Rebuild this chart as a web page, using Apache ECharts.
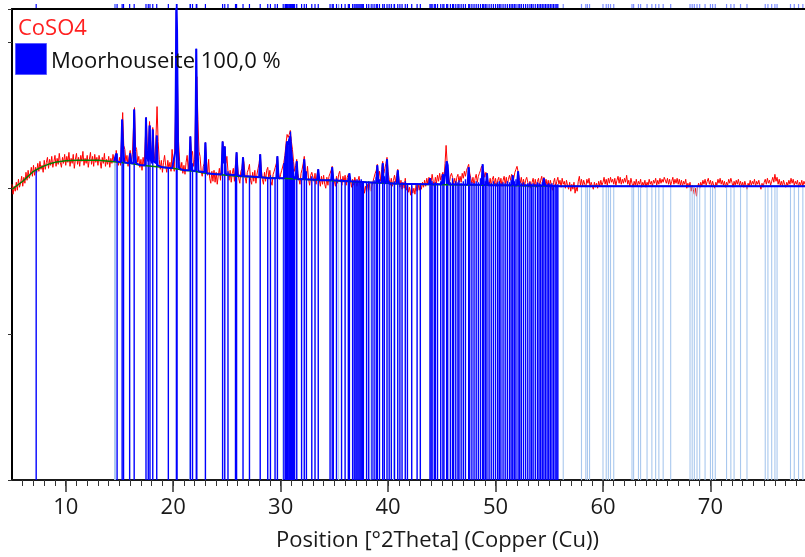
<!DOCTYPE html>
<html><head><meta charset="utf-8">
<script src="https://cdn.jsdelivr.net/npm/echarts@6.0.0/dist/echarts.min.js"></script>
<style>html,body{margin:0;padding:0;background:#fff}#c{width:805px;height:557px}</style>
</head><body><div id="c"></div>
<script>
// Observed pattern [2Theta, intensity]
const observed = [
[5.0,297],[5.1,287],[5.2,295],[5.3,290],[5.4,299],[5.5,291],[5.6,302],[5.7,294],[5.8,298],[5.9,305],
[6.0,295],[6.1,304],[6.2,298],[6.3,309],[6.4,301],[6.5,311],[6.6,303],[6.7,307],[6.8,314],[6.9,305],
[7.0,316],[7.1,306],[7.2,314],[7.3,309],[7.4,318],[7.5,310],[7.6,320],[7.7,312],[7.8,316],[7.9,309],
[8.0,321],[8.1,312],[8.2,319],[8.3,324],[8.4,313],[8.5,322],[8.6,316],[8.7,325],[8.8,314],[8.9,320],
[9.0,326],[9.1,315],[9.2,323],[9.3,317],[9.4,328],[9.5,319],[9.6,314],[9.7,324],[9.8,318],[9.9,327],
[10.0,316],[10.1,325],[10.2,319],[10.3,329],[10.4,315],[10.5,323],[10.6,318],[10.7,327],[10.8,313],[10.9,322],
[11.0,328],[11.1,317],[11.2,324],[11.3,315],[11.4,326],[11.5,320],[11.6,330],[11.7,316],[11.8,323],[11.9,318],
[12.0,326],[12.1,314],[12.2,322],[12.3,329],[12.4,317],[12.5,325],[12.6,315],[12.7,327],[12.8,319],[12.9,324],
[13.0,316],[13.1,326],[13.2,320],[13.3,313],[13.4,324],[13.5,318],[13.6,328],[13.7,315],[13.8,322],[13.9,317],
[14.0,325],[14.1,314],[14.2,323],[14.3,318],[14.4,327],[14.5,321],[14.6,315],[14.7,331],[14.8,322],[14.9,316],
[15.0,324],[15.1,316],[15.2,345],[15.3,369],[15.4,336],[15.5,332],[15.6,320],[15.7,326],[15.8,315],[15.9,325],
[16.0,331],[16.1,320],[16.2,327],[16.3,352],[16.4,374],[16.5,335],[16.6,332],[16.7,319],[16.8,325],[16.9,314],
[17.0,322],[17.1,311],[17.2,324],[17.3,316],[17.4,340],[17.5,364],[17.6,331],[17.7,339],[17.8,360],[17.9,334],
[18.0,326],[18.1,354],[18.2,330],[18.3,320],[18.4,345],[18.5,375],[18.6,340],[18.7,322],[18.8,312],[18.9,321],
[19.0,309],[19.1,319],[19.2,326],[19.3,316],[19.4,309],[19.5,321],[19.6,313],[19.7,319],[19.8,310],[19.9,332],
[20.0,318],[20.1,310],[20.2,360],[20.3,470],[20.4,400],[20.5,340],[20.6,320],[20.7,311],[20.8,319],[20.9,308],
[21.0,316],[21.1,307],[21.2,319],[21.3,326],[21.4,312],[21.5,322],[21.6,345],[21.7,326],[21.8,330],[21.9,315],
[22.0,322],[22.1,380],[22.2,405],[22.3,362],[22.4,330],[22.5,325],[22.6,311],[22.7,305],[22.8,315],[22.9,318],
[23.0,339],[23.1,320],[23.2,306],[23.3,322],[23.4,303],[23.5,298],[23.6,310],[23.7,300],[23.8,311],[23.9,299],
[24.0,309],[24.1,297],[24.2,306],[24.3,313],[24.4,301],[24.5,318],[24.6,340],[24.7,331],[24.8,335],[24.9,318],
[25.0,325],[25.1,310],[25.2,301],[25.3,311],[25.4,299],[25.5,308],[25.6,313],[25.7,300],[25.8,318],[25.9,329],
[26.0,315],[26.1,303],[26.2,298],[26.3,310],[26.4,313],[26.5,324],[26.6,318],[26.7,304],[26.8,298],[26.9,309],
[27.0,312],[27.1,317],[27.2,301],[27.3,297],[27.4,309],[27.5,300],[27.6,311],[27.7,298],[27.8,307],[27.9,313],
[28.0,318],[28.1,327],[28.2,312],[28.3,302],[28.4,297],[28.5,309],[28.6,300],[28.7,311],[28.8,314],[28.9,303],
[29.0,311],[29.1,300],[29.2,296],[29.3,307],[29.4,310],[29.5,314],[29.6,318],[29.7,325],[29.8,309],[29.9,302],
[30.0,307],[30.1,311],[30.2,313],[30.3,319],[30.4,326],[30.5,338],[30.6,347],[30.7,344],[30.8,347],[30.9,351],
[31.0,340],[31.1,332],[31.2,320],[31.3,310],[31.4,316],[31.5,322],[31.6,308],[31.7,302],[31.8,297],[31.9,308],
[32.0,312],[32.1,318],[32.2,325],[32.3,311],[32.4,303],[32.5,315],[32.6,302],[32.7,296],[32.8,306],[32.9,309],
[33.0,311],[33.1,300],[33.2,308],[33.3,297],[33.4,307],[33.5,312],[33.6,301],[33.7,295],[33.8,305],[33.9,297],
[34.0,306],[34.1,297],[34.2,293],[34.3,304],[34.4,296],[34.5,305],[34.6,308],[34.7,311],[34.8,315],[34.9,304],
[35.0,300],[35.1,295],[35.2,305],[35.3,298],[35.4,307],[35.5,310],[35.6,301],[35.7,296],[35.8,305],[35.9,299],
[36.0,306],[36.1,296],[36.2,304],[36.3,307],[36.4,309],[36.5,300],[36.6,294],[36.7,302],[36.8,296],[36.9,304],
[37.0,303],[37.1,295],[37.2,301],[37.3,305],[37.4,296],[37.5,293],[37.6,290],[37.7,297],[37.8,288],[37.9,295],
[38.0,289],[38.1,297],[38.2,291],[38.3,298],[38.4,290],[38.5,296],[38.6,300],[38.7,304],[38.8,308],[38.9,311],
[39.0,317],[39.1,305],[39.2,310],[39.3,300],[39.4,312],[39.5,320],[39.6,308],[39.7,313],[39.8,318],[39.9,324],
[40.0,310],[40.1,302],[40.2,296],[40.3,303],[40.4,295],[40.5,301],[40.6,306],[40.7,299],[40.8,306],[40.9,312],
[41.0,303],[41.1,294],[41.2,301],[41.3,292],[41.4,299],[41.5,293],[41.6,303],[41.7,291],[41.8,298],[41.9,289],
[42.0,294],[42.1,286],[42.2,295],[42.3,288],[42.4,293],[42.5,287],[42.6,296],[42.7,290],[42.8,297],[42.9,291],
[43.0,298],[43.1,292],[43.2,299],[43.3,294],[43.4,301],[43.5,295],[43.6,303],[43.7,297],[43.8,304],[43.9,304],
[44.0,299],[44.1,307],[44.2,300],[44.3,295],[44.4,304],[44.5,298],[44.6,306],[44.7,300],[44.8,308],[44.9,301],
[45.0,306],[45.1,309],[45.2,302],[45.3,318],[45.4,336],[45.5,318],[45.6,303],[45.7,298],[45.8,305],[45.9,308],
[46.0,304],[46.1,297],[46.2,303],[46.3,296],[46.4,304],[46.5,307],[46.6,299],[46.7,305],[46.8,299],[46.9,308],
[47.0,303],[47.1,310],[47.2,305],[47.3,311],[47.4,314],[47.5,317],[47.6,308],[47.7,303],[47.8,298],[47.9,304],
[48.0,296],[48.1,303],[48.2,307],[48.3,299],[48.4,305],[48.5,308],[48.6,311],[48.7,315],[48.8,317],[48.9,310],
[49.0,304],[49.1,309],[49.2,306],[49.3,299],[49.4,296],[49.5,303],[49.6,295],[49.7,302],[49.8,305],[49.9,297],
[50.0,303],[50.1,295],[50.2,301],[50.3,304],[50.4,296],[50.5,303],[50.6,295],[50.7,301],[50.8,305],[50.9,297],
[51.0,304],[51.1,296],[51.2,302],[51.3,306],[51.4,301],[51.5,307],[51.6,308],[51.7,303],[51.8,309],[51.9,312],
[52.0,315],[52.1,313],[52.2,304],[52.3,298],[52.4,304],[52.5,296],[52.6,302],[52.7,295],[52.8,301],[52.9,304],
[53.0,299],[53.1,294],[53.2,300],[53.3,293],[53.4,299],[53.5,303],[53.6,295],[53.7,302],[53.8,294],[53.9,300],
[54.0,303],[54.1,295],[54.2,301],[54.3,305],[54.4,297],[54.5,304],[54.6,296],[54.7,302],[54.8,295],[54.9,301],
[55.0,294],[55.1,301],[55.2,296],[55.3,291],[55.4,299],[55.5,303],[55.6,294],[55.7,300],[55.8,304],[55.9,297],
[56.0,301],[56.1,294],[56.2,303],[56.3,297],[56.4,300],[56.5,293],[56.6,301],[56.7,296],[56.8,292],[56.9,299],
[57.0,290],[57.1,297],[57.2,292],[57.3,299],[57.4,288],[57.5,294],[57.6,290],[57.7,300],[57.8,305],[57.9,296],
[58.0,302],[58.1,295],[58.2,301],[58.3,297],[58.4,294],[58.5,302],[58.6,298],[58.7,303],[58.8,294],[58.9,299],
[59.0,297],[59.1,292],[59.2,299],[59.3,294],[59.4,298],[59.5,293],[59.6,300],[59.7,295],[59.8,301],[59.9,296],
[60.0,299],[60.1,304],[60.2,297],[60.3,302],[60.4,296],[60.5,303],[60.6,298],[60.7,304],[60.8,299],[60.9,302],
[61.0,297],[61.1,303],[61.2,296],[61.3,301],[61.4,305],[61.5,298],[61.6,304],[61.7,297],[61.8,302],[61.9,298],
[62.0,303],[62.1,299],[62.2,306],[62.3,297],[62.4,301],[62.5,295],[62.6,303],[62.7,298],[62.8,294],[62.9,300],
[63.0,296],[63.1,302],[63.2,295],[63.3,300],[63.4,297],[63.5,302],[63.6,294],[63.7,299],[63.8,296],[63.9,301],
[64.0,294],[64.1,299],[64.2,296],[64.3,302],[64.4,297],[64.5,300],[64.6,295],[64.7,301],[64.8,298],[64.9,303],
[65.0,296],[65.1,301],[65.2,297],[65.3,303],[65.4,298],[65.5,302],[65.6,299],[65.7,304],[65.8,306],[65.9,298],
[66.0,303],[66.1,297],[66.2,302],[66.3,296],[66.4,300],[66.5,304],[66.6,297],[66.7,302],[66.8,298],[66.9,303],
[67.0,297],[67.1,302],[67.2,296],[67.3,301],[67.4,295],[67.5,300],[67.6,297],[67.7,302],[67.8,293],[67.9,298],
[68.0,294],[68.1,299],[68.2,290],[68.3,296],[68.4,292],[68.5,287],[68.6,293],[68.7,285],[68.8,294],[68.9,298],
[69.0,293],[69.1,299],[69.2,295],[69.3,301],[69.4,297],[69.5,302],[69.6,296],[69.7,300],[69.8,303],[69.9,297],
[70.0,301],[70.1,295],[70.2,300],[70.3,296],[70.4,293],[70.5,299],[70.6,296],[70.7,302],[70.8,298],[70.9,303],
[71.0,297],[71.1,301],[71.2,296],[71.3,300],[71.4,294],[71.5,299],[71.6,296],[71.7,302],[71.8,298],[71.9,303],
[72.0,299],[72.1,294],[72.2,300],[72.3,296],[72.4,301],[72.5,297],[72.6,302],[72.7,296],[72.8,300],[72.9,295],
[73.0,299],[73.1,294],[73.2,300],[73.3,296],[73.4,292],[73.5,298],[73.6,295],[73.7,301],[73.8,296],[73.9,300],
[74.0,297],[74.1,302],[74.2,295],[74.3,300],[74.4,297],[74.5,301],[74.6,296],[74.7,292],[74.8,298],[74.9,294],
[75.0,299],[75.1,302],[75.2,297],[75.3,303],[75.4,298],[75.5,301],[75.6,296],[75.7,300],[75.8,304],[75.9,299],
[76.0,307],[76.1,300],[76.2,304],[76.3,297],[76.4,302],[76.5,296],[76.6,300],[76.7,295],[76.8,301],[76.9,297],
[77.0,294],[77.1,299],[77.2,296],[77.3,301],[77.4,297],[77.5,303],[77.6,298],[77.7,302],[77.8,296],[77.9,300],
[78.0,297],[78.1,301],[78.2,294],[78.3,299],[78.4,296],[78.5,301],[78.6,295],[78.7,300],[78.8,297]
];

// Fitted background (green)
const background = [
[5,292],[5.5,296],[6,300],[6.5,305],[7,310],[7.5,313],[8,315.5],[8.5,317.5],[9,319],[10,320.5],
[11,321],[12,321],[13,321],[14,320],[15,319],[16,318],[17,316],[18,315],[19,314],[20,313],
[21,311],[22,310],[23,308],[24,307],[25,306],[26,305],[28,304],[30,303],[32,302],[34,301],
[36,300],[38,299],[40,298],[42,297],[46,296.5],[50,296],[56,295],[79,295]
];

// Calculated profile (blue line)
const calculated = [
[14.5,320],[14.65,320],[14.7,328],[14.75,320],[15.15,319],[15.25,362],[15.35,332],[15.45,319],[15.9,318],[16.0,328],
[16.1,318],[16.3,318],[16.37,372],[16.45,330],[16.55,318],[17.0,316],[17.4,316],[17.47,364],[17.55,325],[17.7,320],
[17.8,356],[17.9,322],[18.05,318],[18.1,352],[18.2,320],[18.4,318],[18.47,346],[18.55,316],[19.0,314],[19.9,313],
[20.2,330],[20.3,480],[20.36,452],[20.45,330],[20.55,313],[21.0,311],[21.5,311],[21.6,345],[21.7,311],[22.05,310],
[22.15,433],[22.25,340],[22.35,310],[22.9,309],[23.0,339],[23.1,308],[24.0,307],[24.5,307],[24.6,340],[24.7,318],
[24.8,335],[24.9,307],[25.8,306],[25.9,329],[26.0,306],[26.4,305],[26.5,324],[26.6,305],[27.0,305],[28.0,304],
[28.1,327],[28.2,304],[29.0,303],[29.6,303],[29.7,325],[29.8,303],[30.3,303],[30.5,330],[30.6,340],[30.7,336],
[30.8,342],[30.9,345],[31.0,330],[31.1,318],[31.2,303],[31.4,303],[31.5,320],[31.6,302],[32.1,302],[32.2,322],
[32.3,302],[33.4,301.5],[33.5,312],[33.6,301],[34.7,301],[34.8,314],[34.9,301],[36.3,300],[36.4,308],[36.5,300],
[38.0,299],[38.9,298.5],[39.0,316],[39.1,298.5],[39.4,298.5],[39.5,318],[39.6,298.5],[39.8,298],[39.9,322],[40.0,298],
[40.8,297.5],[40.9,311],[41.0,297.5],[43.8,297],[43.9,303],[44.0,297],[45.0,297],[45.1,307],[45.2,297],[45.35,297],
[45.45,320],[45.55,316],[45.65,297],[47.4,296.5],[47.5,314],[47.6,296.5],[48.7,296.5],[48.8,317],[48.9,296.5],[49.1,296],
[49.2,308],[49.3,296],[51.5,296],[51.6,306],[51.7,296],[52.0,296],[52.1,310],[52.2,296],[54.4,295.5],[54.5,303],
[54.6,295.5],[56,295],[79,295]
];

// Reference peaks (Moorhouseite), strong sticks [2Theta, top]
const refStrong = [
[7.25,312],[14.78,328],[15.25,362],[15.38,335],[15.95,328],[16.37,372],[17.47,364],[17.68,330],[17.84,356],[18.1,352],
[18.47,346],[19.55,313],[20.3,480],[20.36,452],[21.6,345],[21.8,318],[22.15,433],[22.2,360],[23.0,339],[24.6,340],
[24.8,335],[25.1,310],[25.8,308],[25.9,329],[26.5,324],[27.1,305],[28.1,327],[28.8,304],[29.05,306],[29.48,303],
[29.7,325],[30.3,318],[30.45,325],[30.55,335],[30.62,340],[30.7,336],[30.78,342],[30.85,345],[30.92,350],[31.0,330],
[31.1,318],[31.2,312],[31.3,305],[31.5,320],[31.95,303],[32.2,322],[32.4,310],[32.9,305],[33.2,302],[33.5,312],
[34.6,302],[34.8,314],[34.9,304],[35.2,303],[35.67,302],[36.0,301],[36.3,303],[36.4,308],[36.7,300],[36.85,301],
[37.0,300],[37.1,302],[37.2,300],[37.3,301],[37.4,300],[37.5,302],[37.6,299],[37.7,300],[38.0,299],[38.2,300],
[38.5,299],[38.7,301],[38.9,304],[39.0,316],[39.2,302],[39.5,318],[39.65,305],[39.9,322],[40.1,300],[40.3,299],
[40.6,300],[40.9,311],[41.1,298],[41.3,299],[41.6,300],[41.8,298],[42.2,297],[42.7,298],[43.0,297],[43.9,303],
[44.0,298],[44.1,300],[44.3,297],[44.4,299],[44.6,298],[44.9,300],[45.1,307],[45.2,300],[45.45,320],[45.55,310],
[45.8,299],[46.0,303],[46.1,298],[46.3,300],[46.5,299],[46.6,301],[46.8,298],[47.0,300],[47.2,302],[47.5,314],
[47.6,305],[47.8,299],[48.0,298],[48.2,300],[48.4,299],[48.6,303],[48.8,317],[48.9,308],[49.05,300],[49.2,308],
[49.4,299],[49.6,298],[49.8,300],[50.0,298],[50.2,299],[50.35,300],[50.5,298],[50.7,299],[50.9,298],[51.1,300],
[51.3,299],[51.45,301],[51.6,306],[51.75,300],[51.9,302],[52.1,310],[52.25,300],[52.4,298],[52.6,299],[52.8,297],
[53.0,298],[53.2,299],[53.35,297],[53.5,298],[53.7,297],[53.9,299],[54.05,298],[54.2,297],[54.35,299],[54.5,303],
[54.65,298],[54.8,297],[54.95,298],[55.1,297],[55.25,298],[55.4,296],[55.55,297],[55.7,296],[55.8,297]
];

// Reference peaks, weak sticks [2Theta, top]
const refWeak = [
[14.55,320],[14.62,320],[21.55,311],[30.2,303],[35.4,300],[38.4,299],[40.5,298],
[56.3,295],[58.0,295],[58.4,295],[58.55,295],[58.75,295],[60.0,295],[60.3,295],[60.5,295],[60.7,295],
[61.0,295],[62.7,295],[62.85,295],[63.3,295],[63.5,295],[64.1,295],[64.55,295],[64.9,295],[65.2,295],
[65.6,295],[66.3,295],[68.1,295],[68.3,295],[68.5,295],[68.75,295],[69.0,295],[69.5,295],[70.0,295],
[70.2,295],[70.45,295],[71.5,295],[71.9,295],[72.2,295],[72.8,295],[73.4,295],[75.1,295],[75.35,295],
[75.7,295],[76.0,295],[76.2,295],[77.45,295],[77.8,295],[78.2,295],[78.6,295]
];

const majorTicks = [10, 20, 30, 40, 50, 60, 70];
const minorTicks = [6,7,8,9,10,11,12,13,14,15,16,17,18,19,20,21,22,23,24,25,26,27,28,29,30,31,32,33,34,35,36,37,38,39,40,41,42,43,44,45,46,47,48,49,50,51,52,53,54,55,56,57,58,59,60,61,62,63,64,65,66,67,68,69,70,71,72,73,74,75,76,77,78];

const X_MIN = 5, X_MAX = 78.8, Y_MAX = 473;
const FONT = '"Open Sans", "Noto Sans", sans-serif';

function stickRender(color, w) {
  return function (params, api) {
    const x = api.value(0), h = api.value(1);
    const p0 = api.coord([x, 0]);
    const p1 = api.coord([x, h]);
    return { type: 'line', shape: { x1: p0[0], y1: p0[1], x2: p1[0], y2: p1[1] },
      style: { stroke: color, lineWidth: w } };
  };
}
function markerRender(color) {
  return function (params, api) {
    const x = api.value(0);
    const p = api.coord([x, Y_MAX]);
    return { type: 'line', shape: { x1: p[0], y1: p[1] - 5, x2: p[0], y2: p[1] - 1 },
      style: { stroke: color, lineWidth: 1.2 } };
  };
}

const chart = echarts.init(document.getElementById('c'), null, { renderer: 'canvas' });
chart.setOption({
  animation: false,
  backgroundColor: '#ffffff',
  grid: { left: 12, right: 0, top: 9, bottom: 74.5, containLabel: false },
  xAxis: [
    { type: 'value', min: X_MIN, max: X_MAX, position: 'bottom',
      axisLine: { show: true, lineStyle: { color: '#1a1a1a', width: 2 } },
      axisTick: { show: true, customValues: majorTicks, length: 12, lineStyle: { color: '#333', width: 1.5 } },
      axisLabel: { show: true, customValues: majorTicks, fontSize: 22, color: '#1a1a1a', fontFamily: FONT, margin: 17 },
      splitLine: { show: false },
      name: 'Position [°2Theta] (Copper (Cu))', nameLocation: 'middle', nameGap: 50,
      nameTextStyle: { fontSize: 22, color: '#1a1a1a', fontFamily: FONT, padding: [0, 0, 0, 58] } },
    { type: 'value', min: X_MIN, max: X_MAX, position: 'top',
      axisLine: { show: true, lineStyle: { color: '#000', width: 2 } },
      axisTick: { show: false }, axisLabel: { show: false }, splitLine: { show: false } },
    { type: 'value', min: X_MIN, max: X_MAX, position: 'bottom',
      axisLine: { show: false },
      axisTick: { show: true, customValues: minorTicks, length: 6, lineStyle: { color: '#333', width: 1 } },
      axisLabel: { show: false }, splitLine: { show: false } }
  ],
  yAxis: { type: 'value', min: 0, max: Y_MAX, interval: 146.5,
    axisLine: { show: true, lineStyle: { color: '#000', width: 2 } },
    axisTick: { show: true, length: 4, lineStyle: { color: '#333' } },
    axisLabel: { show: false }, splitLine: { show: false } },
  series: [
    { type: 'line', name: 'CoSO4', data: observed, showSymbol: false, symbol: 'none', z: 2,
      lineStyle: { color: '#ff0000', width: 1 } },
    { type: 'custom', name: 'weak', data: refWeak, renderItem: stickRender('#a9c8ee', 1.1), clip: true, z: 3,
      encode: { x: 0, y: 1 } },
    { type: 'custom', name: 'Moorhouseite', data: refStrong, renderItem: stickRender('#0000ff', 1.4), clip: true, z: 4,
      encode: { x: 0, y: 1 } },
    { type: 'line', name: 'background', data: background, showSymbol: false, symbol: 'none', z: 5,
      lineStyle: { color: '#008000', width: 1.5 } },
    { type: 'line', name: 'calc', data: calculated, showSymbol: false, symbol: 'none', z: 6,
      lineStyle: { color: '#0000ff', width: 2 } },
    { type: 'custom', name: 'markWeak', data: refWeak, renderItem: markerRender('#7f8fff'), clip: false, z: 7,
      encode: { x: 0, y: 1 } },
    { type: 'custom', name: 'markStrong', data: refStrong, renderItem: markerRender('#0000ff'), clip: false, z: 8,
      encode: { x: 0, y: 1 } }
  ],
  graphic: [
    { type: 'text', left: 18, top: 18, z: 100,
      style: { text: 'CoSO4', fill: '#ff2020', font: '22px ' + FONT } },
    { type: 'rect', left: 15, top: 43, z: 100, shape: { width: 31, height: 31 },
      style: { fill: '#0000ff', stroke: '#5a5aff', lineWidth: 1 } },
    { type: 'text', left: 51, top: 51, z: 100,
      style: { text: 'Moorhouseite 100,0 %', fill: '#111111', font: '22px ' + FONT } }
  ]
});
</script></body></html>
